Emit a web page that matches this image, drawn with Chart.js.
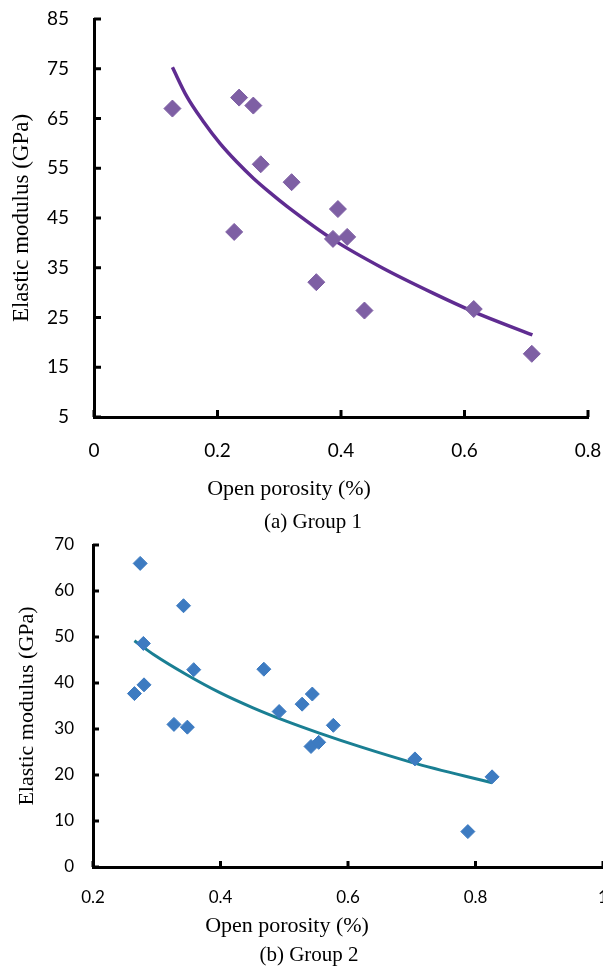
<!DOCTYPE html>
<html>
<head>
<meta charset="utf-8">
<script src="https://cdn.jsdelivr.net/npm/chart.js@4.4.0/dist/chart.umd.min.js"></script>
<style>
  html, body { margin: 0; padding: 0; background: #fff; }
  #page { position: relative; width: 603px; height: 967px; overflow: hidden; background: #fff; }
  .wrap { position: absolute; left: 0; }
  .txt { position: absolute; font-family: "Liberation Serif", "Times New Roman", serif; color: #000;
         transform: translate(-50%, -50%); white-space: nowrap; }
</style>
</head>
<body>
<div id="page">
  <div class="wrap" style="top:0; width:603px; height:505px;"><canvas id="c1" width="603" height="505"></canvas></div>
  <div class="txt" style="left:289px; top:488px; font-size:22px;">Open porosity (%)</div>
  <div class="txt" style="left:313px; top:521px; font-size:21px;">(a) Group 1</div>
  <div class="wrap" style="top:525px; width:620px; height:420px;"><canvas id="c2" width="620" height="420"></canvas></div>
  <div class="txt" style="left:287px; top:925px; font-size:22px;">Open porosity (%)</div>
  <div class="txt" style="left:309px; top:954px; font-size:21px;">(b) Group 2</div>
</div>
<script>
// ---- Group 1 data ----
const group1Porosity = [0.127, 0.227, 0.235, 0.258, 0.270, 0.320, 0.360, 0.387, 0.395, 0.410, 0.438, 0.615, 0.709];
const group1Modulus  = [67.0, 42.2, 69.2, 67.6, 55.8, 52.2, 32.1, 40.8, 46.8, 41.2, 26.4, 26.7, 17.7];
const trend1Porosity = [0.127, 0.150, 0.177, 0.204, 0.231, 0.258, 0.285, 0.312, 0.388, 0.468, 0.549, 0.614, 0.710];
const trend1Modulus  = [75.3, 69.5, 64.4, 60.0, 56.3, 53.0, 50.1, 47.4, 40.6, 34.9, 29.9, 26.2, 21.5];
const xTicks1 = [0, 0.2, 0.4, 0.6, 0.8];
const yTicks1 = [5, 15, 25, 35, 45, 55, 65, 75, 85];

// ---- Group 2 data ----
const group2Porosity = [0.274, 0.342, 0.279, 0.358, 0.280, 0.265, 0.327, 0.348, 0.468, 0.492, 0.528, 0.544, 0.577, 0.542, 0.554, 0.705, 0.826, 0.788];
const group2Modulus  = [66.0, 56.8, 48.6, 42.9, 39.6, 37.7, 31.0, 30.4, 43.0, 33.8, 35.4, 37.6, 30.8, 26.2, 27.1, 23.5, 19.6, 7.7];
const trend2Porosity = [0.265, 0.295, 0.347, 0.399, 0.451, 0.503, 0.555, 0.620, 0.701, 0.826];
const trend2Modulus  = [49.2, 46.2, 41.8, 37.9, 34.6, 31.7, 29.1, 26.1, 22.7, 18.3];
const xTicks2 = [0.2, 0.4, 0.6, 0.8, 1];
const yTicks2 = [0, 10, 20, 30, 40, 50, 60, 70];

const toPts = (xs, ys) => xs.map((x, i) => ({x: x, y: ys[i]}));

// draws short inward tick marks at each tick value, through the scales
const innerTicks = {
  id: 'innerTicks',
  afterDraw(chart, args, opts) {
    const {ctx, chartArea, scales} = chart;
    ctx.save();
    ctx.strokeStyle = '#000';
    ctx.lineWidth = opts.width || 3;
    const len = opts.length || 7;
    scales.x.ticks.forEach(t => {
      const px = scales.x.getPixelForValue(t.value);
      ctx.beginPath(); ctx.moveTo(px, chartArea.bottom); ctx.lineTo(px, chartArea.bottom - len); ctx.stroke();
    });
    scales.y.ticks.forEach(t => {
      const py = scales.y.getPixelForValue(t.value);
      ctx.beginPath(); ctx.moveTo(chartArea.left, py); ctx.lineTo(chartArea.left + len, py); ctx.stroke();
    });
    ctx.restore();
  }
};

const zeroPad = s => { s.paddingTop = 0; s.paddingBottom = 0; s.paddingLeft = 0; s.paddingRight = 0; };

function makeChart(id, cfg) {
  return new Chart(document.getElementById(id), {
    type: 'scatter',
    data: {
      datasets: [
        { data: toPts(cfg.trendX, cfg.trendY), showLine: true, borderColor: cfg.lineColor, borderWidth: cfg.lineWidth,
          pointRadius: 0, cubicInterpolationMode: 'monotone', fill: false, order: 2 },
        { data: toPts(cfg.px, cfg.py), pointStyle: 'rectRot', pointRadius: cfg.r, backgroundColor: cfg.markColor,
          borderColor: cfg.markColor, borderWidth: 1, showLine: false, order: 1 }
      ]
    },
    options: {
      responsive: false, animation: false, devicePixelRatio: 1,
      layout: { padding: { top: cfg.padTop, right: cfg.padRight, left: 0, bottom: 0 } },
      plugins: { legend: { display: false }, tooltip: { enabled: false }, innerTicks: { length: cfg.tickLen, width: 3 } },
      scales: {
        x: {
          type: 'linear', min: cfg.xTicks[0], max: cfg.xTicks[cfg.xTicks.length - 1],
          afterBuildTicks: s => { s.ticks = cfg.xTicks.map(v => ({value: v})); },
          afterFit: s => { s.height = cfg.xHeight; zeroPad(s); },
          grid: { display: false, drawTicks: false },
          border: { display: true, color: '#000', width: 3 },
          ticks: { color: '#000', padding: cfg.xPad, font: { family: 'Lato', size: cfg.tickFont }, maxRotation: 0,
                   callback: v => String(+v.toFixed(2)) }
        },
        y: {
          type: 'linear', min: cfg.yTicks[0], max: cfg.yTicks[cfg.yTicks.length - 1],
          afterBuildTicks: s => { s.ticks = cfg.yTicks.map(v => ({value: v})); },
          afterFit: s => { s.width = cfg.yWidth; zeroPad(s); },
          grid: { display: false, drawTicks: false },
          border: { display: true, color: '#000', width: 3 },
          ticks: { color: '#000', padding: cfg.yPad, font: { family: 'Lato', size: cfg.tickFont } },
          title: { display: true, text: 'Elastic modulus (GPa)', color: '#000',
                   font: { family: 'Liberation Serif', size: cfg.titleFont }, padding: { top: cfg.titlePad, bottom: 0 } }
        }
      }
    },
    plugins: [innerTicks]
  });
}

makeChart('c1', {
  px: group1Porosity, py: group1Modulus, trendX: trend1Porosity, trendY: trend1Modulus,
  xTicks: xTicks1, yTicks: yTicks1,
  lineColor: '#5F2C91', lineWidth: 3.5, markColor: '#7E5FA4', r: 8.5,
  padTop: 19, padRight: 15, xHeight: 88, yWidth: 94, xPad: 22, yPad: 25, tickFont: 19,
  titleFont: 23, titlePad: 8, tickLen: 7
});

makeChart('c2', {
  px: group2Porosity, py: group2Modulus, trendX: trend2Porosity, trendY: trend2Modulus,
  xTicks: xTicks2, yTicks: yTicks2,
  lineColor: '#1A7F93', lineWidth: 3, markColor: '#3D7BC1', r: 7,
  padTop: 20, padRight: 17, xHeight: 78, yWidth: 93, xPad: 20, yPad: 19, tickFont: 17,
  titleFont: 22, titlePad: 14, tickLen: 6
});
</script>
</body>
</html>
